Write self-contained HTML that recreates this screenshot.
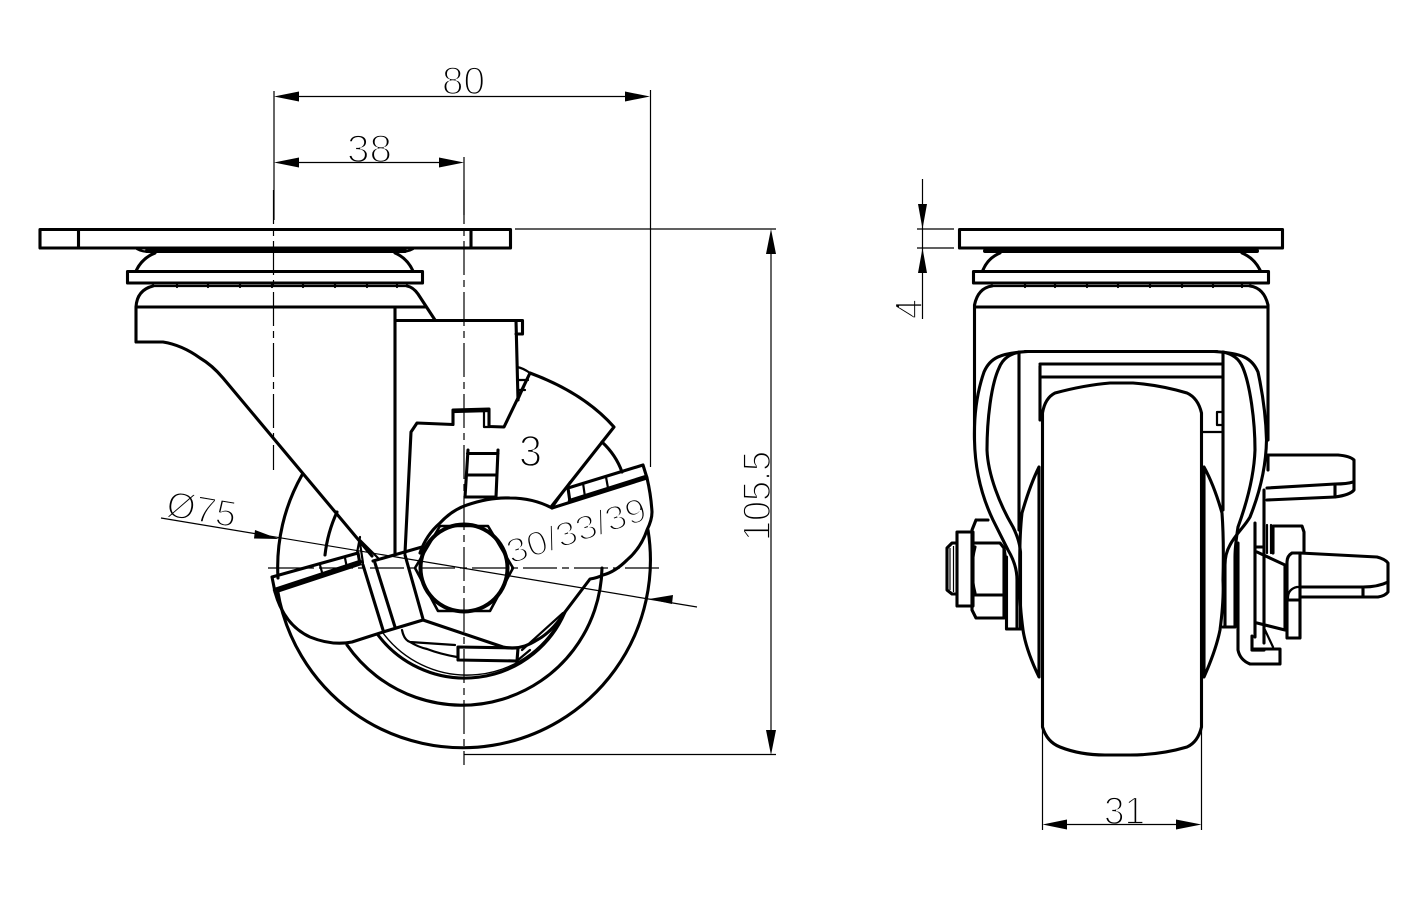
<!DOCTYPE html>
<html>
<head>
<meta charset="utf-8">
<style>
html,body{margin:0;padding:0;background:#fff;}
svg{display:block;}
text{font-family:"Liberation Sans",sans-serif;fill:#000;stroke:#fff;stroke-width:1.7px;}
.m{fill:none;stroke:#000;stroke-width:3.1;stroke-linejoin:round;stroke-linecap:round;}
.n{fill:none;stroke:#000;stroke-width:2.2;stroke-linejoin:round;stroke-linecap:round;}
.t{fill:none;stroke:#000;stroke-width:1.2;}
.c{fill:none;stroke:#000;stroke-width:1.2;stroke-dasharray:34 5 7 5;}
.a{fill:#000;stroke:none;}
</style>
</head>
<body>
<svg width="1421" height="902" viewBox="0 0 1421 902" xmlns="http://www.w3.org/2000/svg">
<!-- text first so white thinning stroke stays beneath lines -->
<text x="442" y="94" font-size="39" textLength="43" lengthAdjust="spacingAndGlyphs">80</text>
<text x="347" y="162" font-size="39" textLength="45" lengthAdjust="spacingAndGlyphs">38</text>
<text x="519" y="466" font-size="44" textLength="23" lengthAdjust="spacingAndGlyphs">3</text>
<text transform="translate(770,541) rotate(-90)" font-size="39" textLength="90" lengthAdjust="spacingAndGlyphs">105.5</text>
<text transform="translate(165,516) rotate(9.5)" font-size="37" textLength="70" lengthAdjust="spacingAndGlyphs">Ø75</text>
<text transform="translate(511,564) rotate(-18)" font-size="34" textLength="145" lengthAdjust="spacingAndGlyphs">30/33/39</text>
<text transform="translate(922,319) rotate(-90)" font-size="39" textLength="20" lengthAdjust="spacingAndGlyphs">4</text>
<text x="1104" y="824" font-size="39" textLength="41" lengthAdjust="spacingAndGlyphs">31</text>

<!-- LEFT VIEW: dimensions -->
<path class="t" d="M274 91V220M650.500 90V467M464 157V215M299 96.500H625M299 162.500H440M515 229H776M464 754.500H776M771 254V730"/>
<path class="c" d="M273.500 190V470M464 190V765M268 568H660"/>
<path class="t" d="M161 518L697 607"/>
<path class="a" d="M274 96.500L299 91.500V101.500ZM650 96.500L625 91.500V101.500ZM274 162.500L299 157.500V167.500ZM464 162.500L439 157.500V167.500ZM771 229L766 254H776ZM771 755L766 730H776ZM279 539L255 530L254 538.500ZM649 599L673 595L672 604Z"/>

<!-- LEFT VIEW: plate and swivel -->
<rect class="m" x="40" y="229.500" width="470.500" height="18.500"/>
<path class="m" d="M78.500 229.500V248M471 229.500V248"/>
<path class="m" style="stroke-width:4" d="M147 251H405"/>
<path class="n" d="M137 249Q142 252 152 252M413 249Q408 252 398 252"/>
<path class="m" d="M155 253Q142 258 136 271M395 253Q407 258 413 271"/>
<rect class="m" x="127.500" y="271.500" width="295" height="11.500"/>
<path class="n" d="M153 286H407"/>
<path class="n" d="M177 283V287M208 283V287M240 283V287M272 283V287M303 283V287M335 283V287M367 283V287M397 283V287"/>
<path class="m" d="M153 286Q137 290 136 307V342H163Q182 345 200 358Q212 365 223 378L372 556"/>
<path class="m" d="M136 307H425M407 286Q413 287 418 294L435 320M395 307V553"/>
<path class="m" d="M395 320.500H522.500V334H516M516 320.500L518 400"/>

<!-- brake lever -->
<path class="m" d="M405 553L411 432L417 423L453 424.500V410L489 409V426.500L504 427L530 373Q584 393 614 427L551 507"/>
<path class="n" d="M484 411.500V427H490M453 412L489 411"/>
<path class="n" d="M517 367Q523 368 530 373M517 380H528M518 390H525M518 400L530 373"/>
<path class="m" d="M468 450L465 497H496L498 450M467.500 453.500H498M467 475H497"/>

<!-- wheel arcs -->
<path class="m" d="M302 475A186 186 0 0 0 278 578"/>
<path class="m" d="M277.500 590A186 186 0 1 0 648 530"/>
<path class="m" d="M337 512A139 139 0 0 0 325 555"/>
<path class="m" d="M347 645A140 140 0 0 0 602 568"/>
<path class="m" d="M378 635A109 109 0 0 0 565 612"/>
<path class="n" style="stroke-width:1.4" d="M383 633A105 105 0 0 0 562 615"/>
<path class="m" d="M602 442Q616 455 622 472"/>

<!-- axle -->
<path class="m" style="stroke-width:2.6" d="M440 526H488L513 568L490 611H438L415 568Z"/>
<circle class="m" style="stroke-width:4" cx="464" cy="568" r="43.500"/>

<!-- pedal bars -->
<path class="m" d="M272 577L358 553L360 564L275 592Z"/>
<path class="m" style="stroke-width:4.400" d="M275 590L360 562"/>
<path class="n" d="M320 565L323 576M345 558L347 568M360 537L357 553M360 543L363 563M360 540L378 558"/>
<path class="m" d="M373 561L422 547M363 565L383 630M375 563L395 627M405 555L423 619"/>
<path class="m" d="M275 592Q284 625 310 637Q332 646 352 642L383 632L423 620L503 647Q520 651 537 640Q552 632 565 612L590 579Q597 578 603 575Q615 572 627 560Q641 548 647 530Q652 520 652 512Q651 495 647 478"/>
<path class="m" d="M420 553Q426 535 440 523Q452 510 467 505Q490 497 510 498Q533 498 552 508"/>
<path class="m" d="M552 508L647 478L643 465L568 488L570 502"/>
<path class="m" style="stroke-width:4.400" d="M570 501L646 477"/>
<path class="n" d="M583 483L585 497M606 477L608 488M552 508L570 482"/>
<path class="m" d="M458 647L518 648L517 661L458 660Z"/>
<path class="n" d="M402 630Q404 640 410 642L455 645M410 642Q418 647 427 649Q440 654 457 657M522 650L563 613M518 660L530 650"/>

<!-- RIGHT VIEW: dimensions -->
<path class="t" d="M922.500 179V319M917 229H954M917 248H954M1042.500 727V830M1201.500 727V830M1067 824.500H1176"/>
<path class="a" d="M922.500 229L918 204H927ZM922.500 248L918 273H927ZM1042.500 824.500L1067 819.500V829.500ZM1201.500 824.500L1176 819.500V829.500Z"/>

<!-- RIGHT VIEW: plate and swivel -->
<rect class="m" x="959.500" y="229.500" width="323" height="18.500"/>
<path class="m" style="stroke-width:4" d="M985 251H1257"/>
<path class="m" d="M1000 253Q988 258 983 270M1242 253Q1254 258 1260 270"/>
<rect class="m" x="973.500" y="271.500" width="295" height="11.500"/>
<path class="n" d="M992 286H1250M1025 283V287M1055 283V287M1087 283V287M1118 283V287M1150 283V287M1182 283V287M1213 283V287M1242 283V287"/>
<path class="m" d="M992 286Q978 288 974.500 305V440M1250 286Q1264 288 1268 305V440M974.500 307H1268"/>

<!-- fork arms -->
<path class="m" d="M1025 351.500H1217"/>
<path class="m" d="M1028 351.500C1000 353 990 358 984 372C976 395 974 420 974.500 440C975 470 982 497 993 520L1008 550C1014 560 1017 570 1017 580V627"/>
<path class="m" d="M1020 352C1010 354 1003 358 999 368C991 385 987 420 987 450C988 475 1000 505 1013 527C1018 537 1020 545 1020.500 552V629H1006.500V557"/>
<path class="m" d="M1019 352V530M1223 352V510"/>
<path class="m" d="M1040 366V420M1040 364H1223M1042 377H1223"/>
<path class="m" d="M1214 351.500C1242 353 1252 358 1258 372C1263 395 1266 420 1266.500 440C1266 470 1258 497 1250 517C1245 526 1235 535 1230 545C1226 552 1225 558 1225 565V627"/>
<path class="m" d="M1223 352C1232 354 1239 358 1243 368C1250 385 1255 420 1255 450C1254 478 1246 505 1238 527C1236 540 1235 548 1235 557V627H1223"/>

<!-- wheel -->
<path class="m" d="M1042.500 727V413Q1045 398 1055 393Q1085 385 1110 383H1133Q1160 385 1187 393Q1198 398 1201.500 413V727Q1198 742 1187 747Q1160 755 1130 755H1105Q1080 755 1060 747Q1047 742 1042.500 727Z"/>
<path class="n" d="M1202 432H1223M1223 412H1217V425H1223"/>
<path class="m" d="M1039 467V677Q1026 650 1023 630Q1019 600 1020 580Q1019 540 1022 513Q1030 485 1039 467Z"/>
<path class="m" d="M1204 467V677Q1216 650 1220 630Q1224 600 1223 580Q1224 540 1222 513Q1214 485 1204 467Z"/>

<!-- bolt -->
<path class="m" d="M976 520H988M976 520L972 530V610L976 618H1004V548L1000 543H974M975 595H1004M975 547Q969 570 975 593M1004 548Q1008 570 1004 595"/>
<rect class="m" x="957" y="532" width="16" height="74"/>
<path class="m" d="M957 543H952L947 548V590L952 594H957"/>
<path class="t" d="M950 548V590M953.500 546V592"/>

<!-- brake side -->
<path class="m" d="M1268 455H1338Q1350 456 1354 460V490Q1350 495 1335 497L1267 500"/>
<path class="m" d="M1267 488L1335 484Q1347 484 1353 482M1335 484V497M1268 455V470"/>
<path class="m" d="M1264 490V643M1255 523V637M1255 547H1264"/>
<path class="m" d="M1238 543V650Q1240 660 1250 664H1280V649H1252V636"/>
<path class="m" style="stroke-width:3.2" d="M1252 650H1264"/>
<path class="m" d="M1300 553L1377 557Q1385 559 1388 563V592Q1385 596 1378 597H1300"/>
<path class="m" d="M1300 587H1363Q1378 587 1388 582M1363 587V597"/>
<path class="m" d="M1287 638H1300V553H1292Q1287 556 1287 562V638ZM1287 600H1300"/>
<path class="n" d="M1288 598Q1288 589 1297 587H1300"/>
<path class="m" d="M1257 552L1285 565M1285 565V630M1257 623L1285 630"/>
<path class="m" d="M1273 553V526H1302L1304 532V553"/>
<path class="n" d="M1267 525V553M1271 525V553M1265 630L1273 647"/>
</svg>
</body>
</html>
